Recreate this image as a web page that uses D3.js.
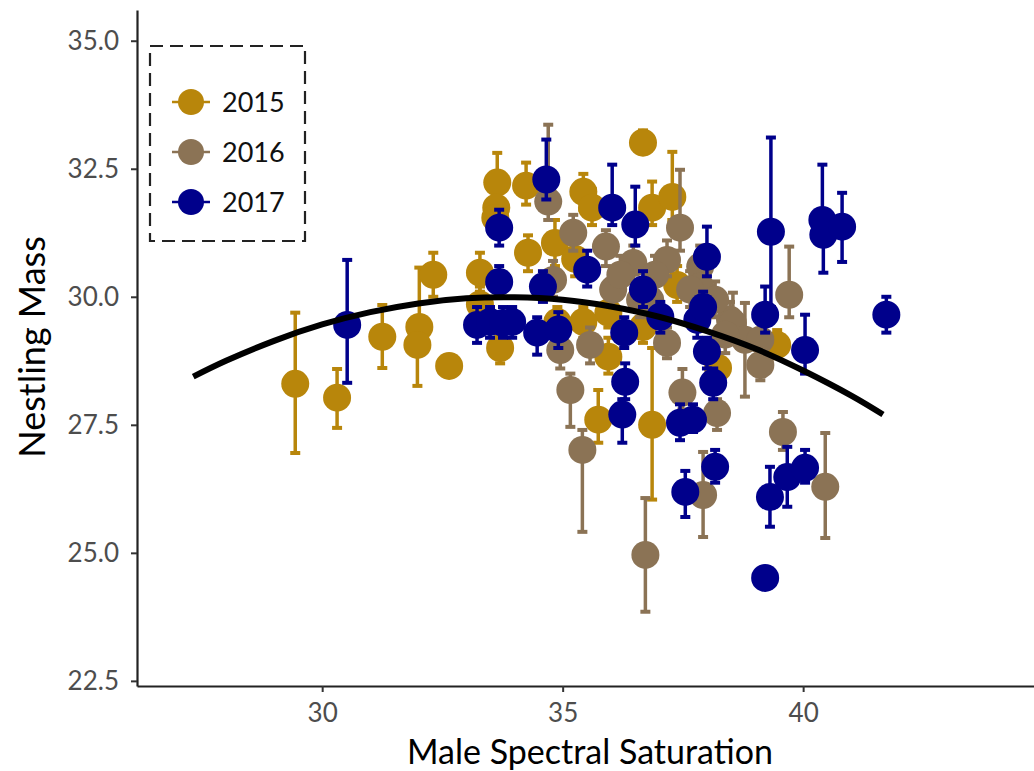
<!DOCTYPE html>
<html>
<head>
<meta charset="utf-8">
<script src="https://cdn.jsdelivr.net/npm/d3@7"></script>
<style>
  body { margin: 0; background: #fff; }
  text { font-family: Lato, "Open Sans", sans-serif; }
</style>
</head>
<body>
<svg id="chart" width="1034" height="771"></svg>
<script>
// yearly nestling means: [saturation, mass, lower, upper]
var years = ["2015", "2016", "2017"];

var points2015 = [
  [29.44, 28.30, 26.95, 29.69], [30.31, 28.03, 27.44, 28.59], [31.25, 29.22, 28.61, 29.84],
  [32.02, 29.41, 29.00, 30.57], [31.98, 29.06, 28.26, 29.50], [32.31, 30.43, 30.00, 30.86],
  [32.64, 28.65, 28.45, 28.85], [33.28, 30.47, 30.10, 30.86], [33.28, 29.85, 29.50, 30.20],
  [33.64, 32.23, 31.90, 32.81], [33.62, 31.74, 31.40, 32.10], [33.60, 31.54, 31.20, 31.90],
  [33.70, 29.00, 28.70, 29.30], [34.24, 32.17, 31.80, 32.62], [34.28, 30.86, 30.50, 31.20],
  [34.84, 31.05, 30.60, 31.50], [35.26, 30.74, 30.40, 31.10], [35.43, 32.05, 31.70, 32.40],
  [35.61, 31.74, 31.40, 32.10], [36.67, 33.01, 32.80, 33.25], [36.86, 31.74, 31.40, 32.25],
  [37.28, 31.95, 31.50, 32.83], [37.38, 30.23, 29.90, 30.60], [35.95, 29.69, 29.40, 30.00],
  [36.67, 29.41, 29.10, 29.70], [35.95, 28.83, 28.50, 29.20], [38.23, 28.61, 28.30, 28.90],
  [39.46, 29.06, 28.80, 29.35], [36.86, 27.50, 26.04, 29.00], [35.74, 27.60, 27.15, 28.18],
  [35.43, 29.51, 29.20, 29.80], [34.89, 29.51, 29.20, 29.80]
];

var points2016 = [
  [34.70, 31.86, 31.50, 33.36], [34.80, 30.33, 30.00, 30.70], [35.22, 31.25, 30.90, 31.60],
  [35.90, 30.98, 30.60, 31.30], [34.95, 28.96, 28.60, 29.30], [35.16, 28.18, 27.46, 28.50],
  [35.41, 27.01, 25.41, 27.40], [36.72, 24.96, 23.85, 26.07], [37.49, 28.13, 27.80, 28.59],
  [38.21, 27.73, 27.40, 28.00], [38.48, 29.55, 29.20, 29.90], [39.58, 27.36, 27.01, 27.75],
  [39.71, 30.04, 29.60, 30.98], [40.46, 26.29, 25.29, 27.34], [37.92, 26.13, 25.31, 26.97],
  [37.44, 31.35, 30.90, 32.48], [36.47, 30.66, 30.30, 31.00], [37.17, 30.72, 30.40, 31.10],
  [37.86, 30.59, 30.20, 31.00], [36.05, 30.14, 29.80, 30.50], [36.82, 29.94, 29.60, 30.30],
  [37.17, 29.10, 28.80, 29.40], [38.54, 29.49, 29.10, 30.08], [38.79, 29.16, 28.05, 29.88],
  [39.11, 28.67, 28.37, 29.00], [35.57, 29.06, 28.70, 29.40], [37.86, 30.20, 29.90, 30.55],
  [36.20, 30.43, 30.10, 30.80], [36.92, 30.43, 30.10, 30.80], [37.65, 30.14, 29.80, 30.50],
  [36.61, 29.94, 29.60, 30.30], [38.17, 29.94, 29.60, 30.30], [38.38, 29.26, 28.90, 29.60],
  [39.11, 29.16, 28.80, 29.50]
];

var points2017 = [
  [30.52, 29.45, 28.32, 30.72], [33.22, 29.45, 29.10, 29.80], [33.49, 29.51, 29.20, 29.80],
  [33.76, 29.49, 29.20, 29.80], [33.95, 29.51, 29.20, 29.80], [34.47, 29.30, 28.87, 29.60],
  [34.91, 29.36, 29.00, 29.70], [34.59, 30.20, 29.90, 30.50], [33.68, 30.29, 30.00, 30.60],
  [33.68, 31.35, 31.00, 31.70], [34.66, 32.29, 31.90, 33.07], [35.51, 30.53, 30.20, 30.90],
  [36.03, 31.74, 31.40, 32.58], [36.51, 31.41, 31.00, 32.15], [38.00, 30.78, 30.40, 31.37],
  [39.33, 31.27, 29.80, 33.11], [40.40, 31.50, 31.10, 32.58], [40.42, 31.21, 30.47, 31.60],
  [40.81, 31.37, 30.68, 32.03], [39.21, 29.65, 29.30, 30.20], [40.04, 28.96, 28.50, 29.65],
  [41.73, 29.65, 29.30, 30.00], [39.21, 24.51, 24.40, 24.60], [39.31, 26.09, 25.51, 26.68],
  [39.67, 26.48, 25.90, 27.07], [40.04, 26.66, 26.37, 27.01], [38.17, 26.68, 26.37, 27.01],
  [37.55, 26.19, 25.70, 26.60], [36.30, 28.34, 28.00, 28.70], [36.24, 27.70, 27.15, 28.00],
  [37.44, 27.54, 27.20, 27.90], [37.71, 27.60, 27.36, 27.90], [38.13, 28.32, 28.00, 28.60],
  [38.00, 28.93, 28.60, 29.20], [37.03, 29.61, 29.30, 29.90], [37.80, 29.55, 29.20, 29.90],
  [37.92, 29.80, 29.50, 30.10], [36.28, 29.30, 29.00, 29.60], [36.67, 30.14, 29.80, 30.50]
];

// quadratic fit
var fitX = [27.32, 28, 29, 30, 31, 32, 33, 34, 35, 36, 37, 38, 39, 40, 41, 41.66];
var fitY = [28.44, 28.75, 29.14, 29.46, 29.70, 29.87, 29.97, 29.99, 29.94, 29.81, 29.61, 29.33, 28.99, 28.56, 28.07, 27.70];

var yTicks = [22.5, 25.0, 27.5, 30.0, 32.5, 35.0];
var xTicks = [30, 35, 40];

var colors = { "2015": "#b8860b", "2016": "#8b7355", "2017": "#00008b" };

var svg = d3.select("#chart");

var x = d3.scaleLinear().domain([26.15, 44.8]).range([137, 1034]);
var y = d3.scaleLinear().domain([22.4, 35.6]).range([686, 10]);

// axes
var yAxis = svg.append("g")
    .attr("transform", "translate(137,0)")
    .call(d3.axisLeft(y).tickValues(yTicks).tickFormat(d3.format(".1f"))
        .tickSize(6).tickSizeOuter(0).tickPadding(12));
var xAxis = svg.append("g")
    .attr("transform", "translate(0,686)")
    .call(d3.axisBottom(x).tickValues(xTicks).tickSize(6).tickSizeOuter(0).tickPadding(12));

[xAxis, yAxis].forEach(function(g) {
    g.select(".domain").attr("stroke", "#222").attr("stroke-width", 2.2);
    g.selectAll(".tick line").attr("stroke", "#333").attr("stroke-width", 2);
    g.selectAll(".tick text").attr("fill", "#4d4d4d").style("font-size", "26px")
        .style("font-family", "Lato, sans-serif");
});

svg.append("text")
    .attr("x", 590).attr("y", 764)
    .attr("text-anchor", "middle")
    .style("font-size", "34px")
    .text("Male Spectral Saturation");

svg.append("text")
    .attr("transform", "translate(45,347) rotate(-90)")
    .attr("text-anchor", "middle")
    .style("font-size", "36px")
    .text("Nestling Mass");

// points with error bars, one layer per year
var series = [points2015, points2016, points2017];
var plot = svg.append("g");

series.forEach(function(pts, i) {
    var col = colors[years[i]];
    var g = plot.append("g");
    var bar = g.selectAll("g.bar").data(pts).enter().append("g").attr("class", "bar")
        .attr("stroke", col);
    bar.append("line")
        .attr("x1", function(d) { return x(d[0]); })
        .attr("x2", function(d) { return x(d[0]); })
        .attr("y1", function(d) { return y(d[2]); })
        .attr("y2", function(d) { return y(d[3]); })
        .attr("stroke-width", 3.5);
    [2, 3].forEach(function(k) {
        bar.append("line")
            .attr("x1", function(d) { return x(d[0]) - 5; })
            .attr("x2", function(d) { return x(d[0]) + 5; })
            .attr("y1", function(d) { return y(d[k]); })
            .attr("y2", function(d) { return y(d[k]); })
            .attr("stroke-width", 4);
    });
    g.selectAll("circle").data(pts).enter().append("circle")
        .attr("cx", function(d) { return x(d[0]); })
        .attr("cy", function(d) { return y(d[1]); })
        .attr("r", 14)
        .attr("fill", col);
});

// fitted curve on top
var line = d3.line()
    .x(function(d) { return x(d[0]); })
    .y(function(d) { return y(d[1]); })
    .curve(d3.curveNatural);
svg.append("path")
    .datum(d3.zip(fitX, fitY))
    .attr("d", line)
    .attr("fill", "none")
    .attr("stroke", "#000")
    .attr("stroke-width", 6);

// legend
var legend = svg.append("g");
legend.append("rect")
    .attr("x", 150).attr("y", 46).attr("width", 155).attr("height", 195)
    .attr("fill", "#fff").attr("stroke", "#222").attr("stroke-width", 2.2)
    .attr("stroke-dasharray", "13,7");
var item = legend.selectAll("g.item").data(years).enter().append("g")
    .attr("transform", function(d, i) { return "translate(191," + (102 + i * 50) + ")"; });
item.append("line")
    .attr("x1", -19).attr("x2", 19)
    .attr("stroke", function(d) { return colors[d]; })
    .attr("stroke-width", 2.5);
item.append("circle").attr("r", 13).attr("fill", function(d) { return colors[d]; });
item.append("text")
    .attr("x", 31).attr("dy", "0.36em")
    .style("font-size", "27px")
    .attr("fill", "#111")
    .text(function(d) { return d; });
</script>
</body>
</html>
